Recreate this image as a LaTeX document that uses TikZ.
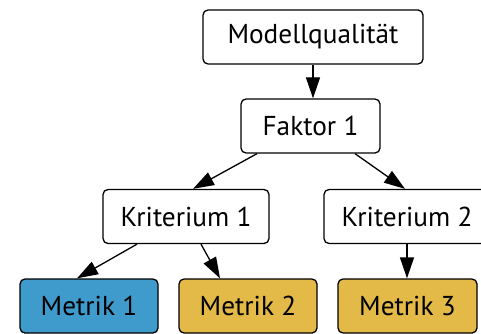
\documentclass[tikz,border=0pt]{standalone}
\usepackage{fontspec}
\setmainfont{PT Sans}
\usetikzlibrary{arrows.meta,calc}
\definecolor{mblue}{RGB}{64,155,205}
\definecolor{myellow}{RGB}{227,185,72}
\begin{document}
\begin{tikzpicture}[x=1pt,y=-1pt,
  box/.style={draw=black,line width=1.3pt,rounded corners=5pt,minimum height=54pt,inner sep=0pt,font=\fontsize{27.3}{30}\selectfont},
  edge/.style={line width=1.3pt,-{Triangle[length=21pt,width=14pt]}}]
\useasboundingbox (0,0) rectangle (481,334);
\node[box,minimum width=220pt] (mq) at (313,37) {Modellqualität};
\node[box,minimum width=139pt] (f1) at (310.5,126) {Faktor 1};
\node[box,minimum width=166pt] (k1) at (186,216.5) {Kriterium 1};
\node[box,minimum width=166pt] (k2) at (407,216.5) {Kriterium 2};
\node[box,minimum width=138pt,fill=mblue] (m1) at (89,306) {Metrik 1};
\node[box,minimum width=138pt,fill=myellow] (m2) at (248,306) {Metrik 2};
\node[box,minimum width=139pt,fill=myellow] (m3) at (407.5,306) {Metrik 3};
\draw[edge] (mq.south) -- (mq.south |- f1.north);
\draw[edge] ($(f1.south)+(-53.5,0)$) -- ($(k1.north)+(7,0)$);
\draw[edge] ($(f1.south)+(44.5,0)$) -- ($(k2.north)+(-2,0)$);
\draw[edge] ($(k1.south)+(-49,0)$) -- ($(m1.north)+(-12,0)$);
\draw[edge] ($(k1.south)+(15,0)$) -- ($(m2.north)+(-28,0)$);
\draw[edge] (k2.south) -- (k2.south |- m3.north);
\end{tikzpicture}
\end{document}
